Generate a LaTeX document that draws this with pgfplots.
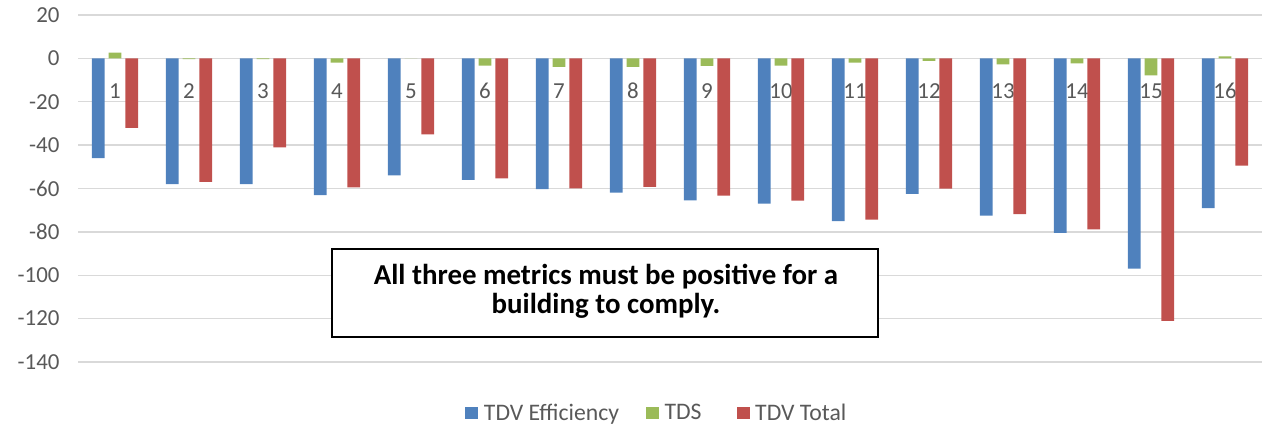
\documentclass[border=0pt]{standalone}
\usepackage{fontspec}
\setmainfont{Carlito}
\usepackage{pgfplots}
\pgfplotsset{compat=1.18}
\definecolor{cblue}{HTML}{4F81BD}
\definecolor{cgreen}{HTML}{9BBB59}
\definecolor{cred}{HTML}{C0504D}
\definecolor{gridgray}{HTML}{D9D9D9}
\definecolor{labelgray}{HTML}{595959}
\begin{document}
\begin{tikzpicture}
\path[use as bounding box] (0,0) rectangle (1262bp,425bp);
\begin{axis}[
  at={(78bp,63bp)}, anchor=south west,
  scale only axis, width=1184bp, height=347bp,
  xmin=0.5, xmax=16.5, ymin=-140, ymax=20,
  ybar=4bp, bar width=12.7bp,
  xtick={1,...,16},
  ytick={-140,-120,...,20},
  ymajorgrids, grid style={draw=gridgray, line width=1.3bp},
  axis line style={draw=none},
  major tick length=0pt,
  tick label style={font=\fontsize{23}{27}\selectfont, text=labelgray},
  /pgf/number format/assume math mode=true,
  xticklabel style={anchor=center, yshift=271bp},
  yticklabel style={xshift=-15bp},
  legend columns=3,
  legend style={at={(0.488,-0.146)}, anchor=center, draw=none, fill=none,
    inner sep=0pt,
    nodes={inner sep=0pt},
    font=\fontsize{23.8}{27}\selectfont, text=labelgray,
    /tikz/column 1/.style={column sep=5.7bp},
    /tikz/column 2/.style={column sep=26.7bp},
    /tikz/column 3/.style={column sep=5.7bp},
    /tikz/column 4/.style={column sep=35bp},
    /tikz/column 5/.style={column sep=5.7bp}},
  legend image code/.code={\fill[#1] (0bp,-6bp) rectangle (13bp,6bp);},
]
\addplot[fill=cblue, draw=none] coordinates {
(1,-46) (2,-58) (3,-58) (4,-63) (5,-54) (6,-56) (7,-60.3) (8,-61.9)
(9,-65.5) (10,-67) (11,-75) (12,-62.5) (13,-72.5) (14,-80.5) (15,-97) (16,-69)};
\addplot[fill=cgreen, draw=none] coordinates {
(1,2.7) (2,-0.3) (3,-0.3) (4,-2) (5,0) (6,-3.4) (7,-3.9) (8,-3.9)
(9,-3.5) (10,-3.4) (11,-2) (12,-1.1) (13,-2.8) (14,-2.3) (15,-7.8) (16,0.9)};
\addplot[fill=cred, draw=none] coordinates {
(1,-32) (2,-57) (3,-41) (4,-59.5) (5,-35) (6,-55.3) (7,-60) (8,-59.3)
(9,-63.3) (10,-65.6) (11,-74.4) (12,-60.1) (13,-71.8) (14,-78.8) (15,-121) (16,-49.5)};
\legend{TDV Efficiency, TDS, TDV Total}
\draw[line width=2bp, fill=white] (axis cs:3.936,-87.7) rectangle (axis cs:11.315,-128.7);
\node[anchor=base, inner sep=0pt, font=\fontsize{29}{30}\selectfont\bfseries] at (axis cs:7.635,-104.3)
  {All three metrics must be positive for a};
\node[anchor=base, inner sep=0pt, font=\fontsize{29}{30}\selectfont\bfseries] at (axis cs:7.635,-117.7)
  {building to comply.};
\end{axis}
\end{tikzpicture}
\end{document}
